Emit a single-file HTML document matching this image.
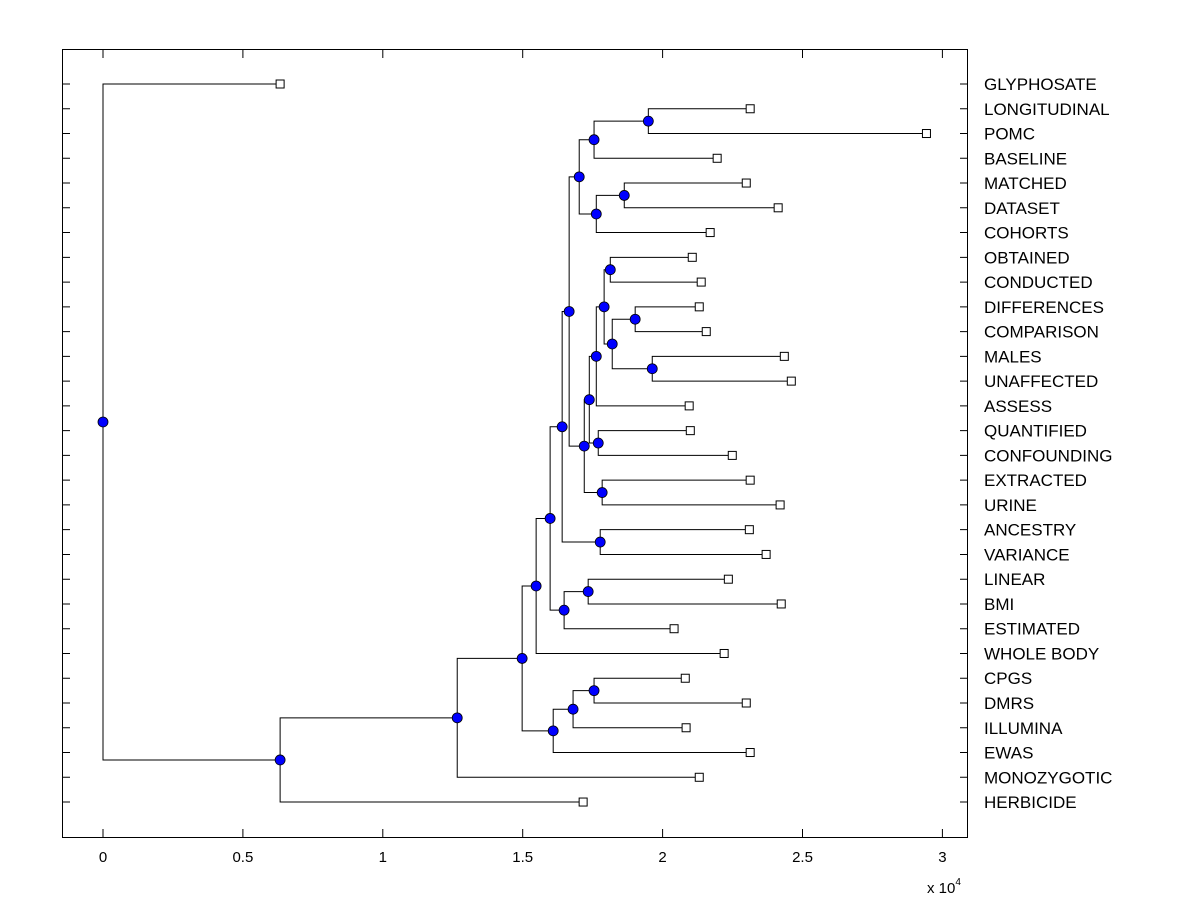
<!DOCTYPE html>
<html><head><meta charset="utf-8"><style>
body{margin:0;background:#fff;}
svg text{font-family:"Liberation Sans",Arial,sans-serif;fill:#000;}
</style></head><body>
<svg id="chart" width="1200" height="900" xmlns="http://www.w3.org/2000/svg">
<rect x="0" y="0" width="1200" height="900" fill="#fff"/>
<g id="links"></g>
<g id="marks"></g>
<rect x="62.5" y="49.5" width="905" height="788" fill="none" stroke="#000" stroke-width="1"/>
<g id="axes"></g>
<text x="927" y="893" font-size="15">x 10<tspan font-size="10" dy="-8">4</tspan></text>
</svg>
<script>
const leafNames = ["GLYPHOSATE","LONGITUDINAL","POMC","BASELINE","MATCHED","DATASET","COHORTS","OBTAINED","CONDUCTED","DIFFERENCES","COMPARISON","MALES","UNAFFECTED","ASSESS","QUANTIFIED","CONFOUNDING","EXTRACTED","URINE","ANCESTRY","VARIANCE","LINEAR","BMI","ESTIMATED","WHOLE BODY","CPGS","DMRS","ILLUMINA","EWAS","MONOZYGOTIC","HERBICIDE"];
const leafValues = [0.633,2.313,2.943,2.195,2.299,2.413,2.170,2.106,2.138,2.131,2.156,2.435,2.460,2.095,2.099,2.249,2.313,2.420,2.310,2.370,2.235,2.424,2.041,2.220,2.081,2.299,2.084,2.313,2.131,1.716];
const nodeIds = ["A","B","C","D","E","F","G","H","I","J","K","L","Q","N","M","P","T","R","W","V","U","X","BB","AA","Z","Y","CC","DD","ROOT"];
const nodeChildA = [1,"A",4,"C","B",7,9,11,"G","F","J",14,"K",16,"Q","E",18,"P",20,"W","R","U",24,"BB","AA","X","Y","CC",0];
const nodeChildB = [2,3,5,6,"D",8,10,12,"H","I",13,15,"L",17,"N","M",19,"T",21,22,"V",23,25,26,27,"Z",28,29,"DD"];
const nodeValues = [1.949,1.755,1.863,1.763,1.702,1.813,1.902,1.963,1.820,1.791,1.763,1.770,1.738,1.784,1.720,1.666,1.777,1.641,1.734,1.648,1.598,1.548,1.755,1.680,1.609,1.498,1.266,0.633,0];
const xTicks = [0,0.5,1,1.5,2,2.5,3];
const xTickLabels = ["0","0.5","1","1.5","2","2.5","3"];

const NS="http://www.w3.org/2000/svg";
const X = v => 103 + v*279.8;
const Y = i => 84 + i*24.76;
function mk(tag, attrs, parent){const e=document.createElementNS(NS,tag);for(const k in attrs)e.setAttribute(k,attrs[k]);parent.appendChild(e);return e;}
const links=document.getElementById('links'), marks=document.getElementById('marks'), axes=document.getElementById('axes');
const pos={};
leafNames.forEach((n,i)=>{pos[i]={x:X(leafValues[i]),y:Y(i)};});
nodeIds.forEach((id,k)=>{
  const a=pos[nodeChildA[k]], b=pos[nodeChildB[k]];
  const px=X(nodeValues[k]);
  pos[id]={x:px,y:(a.y+b.y)/2};
  const p=mk('path',{d:`M${a.x},${a.y}H${px}V${b.y}H${b.x}`,fill:'none',stroke:'#000','stroke-width':1},links);
  
  
});
leafNames.forEach((n,i)=>{
  const p=pos[i];
  const s=mk('rect',{x:p.x-4,y:p.y-4,width:8,height:8,fill:'#fff',stroke:'#000','stroke-width':1},marks);
  
  
  const t=mk('text',{x:984,y:Y(i)+6,'font-size':17},axes);
  t.textContent=n;
  
  
  const tl=mk('path',{d:`M62,${Y(i)}h8M968,${Y(i)}h-8`,stroke:'#000','stroke-width':1},axes);
  
  
});
nodeIds.forEach(id=>{
  const p=pos[id];
  const c=mk('circle',{cx:p.x,cy:p.y,r:5,fill:'#0000ff',stroke:'#000','stroke-width':0.8},marks);
  
  
});
xTicks.forEach((v,i)=>{
  const x=X(v);
  const tk=mk('path',{d:`M${x},838v-9M${x},49v9`,stroke:'#000','stroke-width':1},axes);
  
  
  const t=mk('text',{x:x,y:862,'font-size':15,'text-anchor':'middle'},axes);
  t.textContent=xTickLabels[i];
  
  
});
</script>
</body></html>
